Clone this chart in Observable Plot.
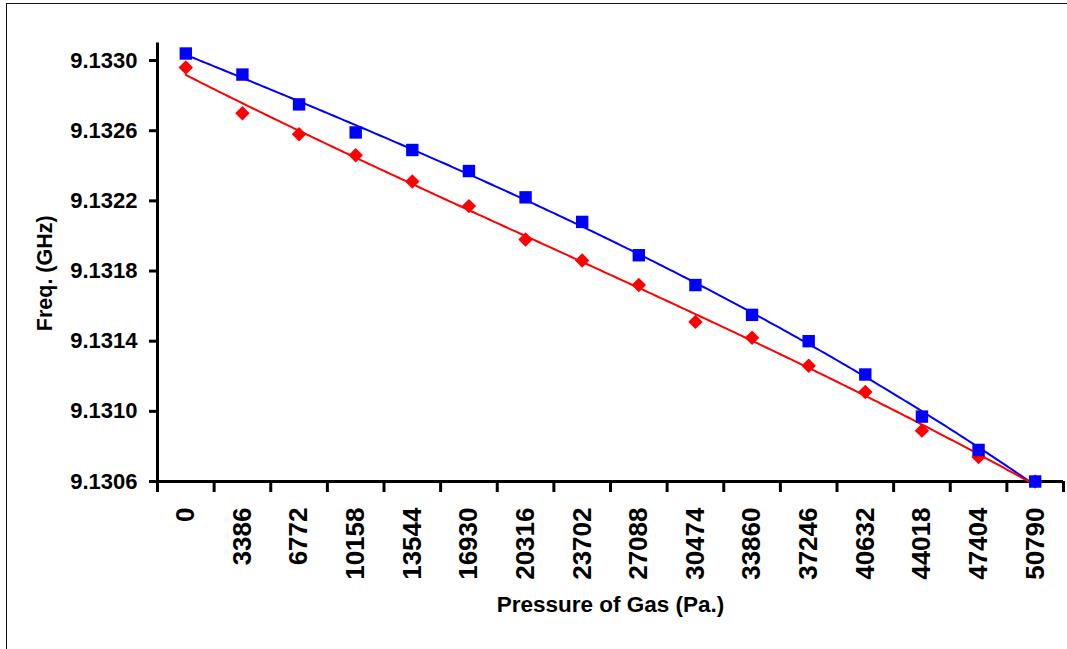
<!DOCTYPE html>
<html>
<head>
<meta charset="utf-8">
<script src="https://cdn.jsdelivr.net/npm/d3@7"></script>
<script src="https://cdn.jsdelivr.net/npm/@observablehq/plot@0.6"></script>
<style>
  html, body { margin: 0; padding: 0; background: #fff; overflow: hidden; width: 1067px; height: 649px; }
  #wrap { position: relative; width: 1067px; height: 649px; }
  #border { position: absolute; left: 6px; top: 3px; width: 1100px; height: 700px; border: 1.5px solid #111; pointer-events: none; }
  #chart { position: absolute; left: 0; top: 0; }
</style>
</head>
<body>
<div id="wrap"><div id="chart"></div><div id="border"></div></div>
<script>
// Category tick labels (pressure of gas, Pa.)
const pressures = ["0","3386","6772","10158","13544","16930","20316","23702","27088","30474","33860","37246","40632","44018","47404","50790"];
// Blue series (squares), GHz
const freqBlue = [9.13304,9.13292,9.13275,9.13259,9.13249,9.13237,9.13222,9.13208,9.13189,9.13172,9.13155,9.13140,9.13121,9.13097,9.13078,9.13060];
// Red series (diamonds), GHz
const freqRed = [9.13296,9.13270,9.13258,9.13246,9.13231,9.13217,9.13198,9.13186,9.13172,9.13151,9.13142,9.13126,9.13111,9.13089,9.13074,9.13060];
// Y-axis ticks
const yTicks = [9.1306,9.1310,9.1314,9.1318,9.1322,9.1326,9.1330];
const yDomain = [9.1306, 9.1331];
const yTitle = "Freq. (GHz)";
const xTitle = "Pressure of Gas (Pa.)";

const idx = pressures.map((_, i) => i);
const blueData = idx.map(i => ({i, v: freqBlue[i]}));
const redData = idx.map(i => ({i, v: freqRed[i]}));

// Least-squares polynomial trendline (like Excel's polynomial trendline)
function polyfit(xs, ys, deg) {
  const m = d3.mean(ys);
  const yc = ys.map(y => (y - m) * 1e4);
  const n = deg + 1;
  const A = Array.from({length: n}, () => new Array(n + 1).fill(0));
  for (let k = 0; k < xs.length; k++) {
    for (let r = 0; r < n; r++) {
      for (let c = 0; c < n; c++) A[r][c] += Math.pow(xs[k], r + c);
      A[r][n] += yc[k] * Math.pow(xs[k], r);
    }
  }
  for (let col = 0; col < n; col++) {
    let piv = col;
    for (let r = col + 1; r < n; r++) if (Math.abs(A[r][col]) > Math.abs(A[piv][col])) piv = r;
    [A[col], A[piv]] = [A[piv], A[col]];
    for (let r = 0; r < n; r++) {
      if (r === col) continue;
      const f = A[r][col] / A[col][col];
      for (let c = col; c <= n; c++) A[r][c] -= f * A[col][c];
    }
  }
  const coef = A.map((row, r) => row[n] / row[r]);
  return t => m + coef.reduce((s, c, p) => s + c * Math.pow(t, p), 0) / 1e4;
}
const fitBlue = polyfit(idx, freqBlue, 3);
const fitRed = polyfit(idx, freqRed, 3);
const tSamples = d3.range(0, 15.0001, 0.05);
const trendBlue = tSamples.map(t => ({i: t, v: fitBlue(t)}));
const trendRed = tSamples.map(t => ({i: t, v: fitRed(t)}));

const boundaries = d3.range(pressures.length + 1).map(i => i - 0.5);
const font = "'Liberation Sans', Arial, sans-serif";

const chart = Plot.plot({
  width: 1067,
  height: 649,
  marginLeft: 157,
  marginRight: 4,
  marginTop: 42.5,
  marginBottom: 168,
  style: {fontFamily: font, fontWeight: "bold", color: "#000", background: "transparent", overflow: "visible"},
  x: {type: "linear", domain: [-0.5, pressures.length - 0.5]},
  y: {domain: yDomain},
  marks: [
    Plot.axisY({ticks: yTicks, tickSize: 8, tickPadding: 12, tickFormat: d => d.toFixed(4), strokeWidth: 3, fontSize: 22, fontWeight: "bold", label: null}),
    Plot.axisX({ticks: boundaries, tickSize: 11, tickFormat: () => "", strokeWidth: 3, label: null}),
    Plot.axisX({ticks: idx, tickSize: 0, tickPadding: 26, tickRotate: -90, tickFormat: i => pressures[i], fontSize: 26, fontWeight: "bold", label: null}),
    Plot.ruleY([yDomain[0]], {stroke: "#000", strokeWidth: 3}),
    Plot.ruleX([-0.5], {stroke: "#000", strokeWidth: 3}),
    Plot.line(trendBlue, {x: "i", y: "v", stroke: "#0000ff", strokeWidth: 2}),
    Plot.line(trendRed, {x: "i", y: "v", stroke: "#ff0000", strokeWidth: 2}),
    Plot.dot(redData, {x: "i", y: "v", symbol: "diamond2", r: 6.5, fill: "#ff0000", stroke: "none"}),
    Plot.dot(blueData, {x: "i", y: "v", symbol: "square", r: 7, fill: "#0000ff", stroke: "none"}),
    Plot.text([yTitle], {frameAnchor: "left", textAnchor: "middle", dx: -112, dy: 11, rotate: -90, fontSize: 21.5, fontWeight: "bold", letterSpacing: "0.6px", fill: "#000"}),
    Plot.text([xTitle], {frameAnchor: "bottom", textAnchor: "middle", dy: 130, fontSize: 22.5, fontWeight: "bold", fill: "#000"})
  ]
});
document.getElementById("chart").appendChild(chart);
</script>
</body>
</html>
